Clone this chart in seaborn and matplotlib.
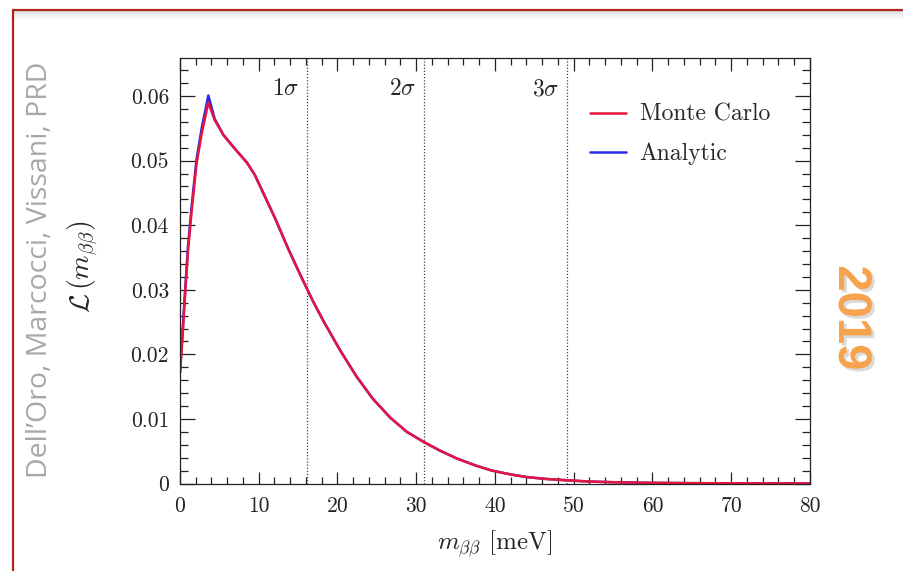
import numpy as np
import pandas as pd
import seaborn as sns
import matplotlib
matplotlib.use("Agg")
import matplotlib.pyplot as plt
from matplotlib.lines import Line2D
from matplotlib.ticker import MultipleLocator
import matplotlib.patheffects as pe

# ---------------- data ----------------
m_bb = [0, 0.25, 0.6, 1.0, 1.5, 2.1, 2.75, 3.6, 4.4, 5.5, 7.0, 8.5, 9.5, 10.8,
        12.1, 13.8, 15.4, 16.9, 18.2, 20.3, 22.4, 24.5, 26.7, 28.8, 31.0, 33.0,
        35.1, 37.5, 39.6, 42.0, 44.0, 46.5, 49.1, 52.0, 55.0, 60.0, 65.0, 70.0,
        75.0, 80.0]
analytic = [0.0172, 0.0220, 0.0290, 0.0365, 0.0432, 0.0502, 0.0550, 0.0601,
            0.0565, 0.0540, 0.0518, 0.0497, 0.0478, 0.0444, 0.0410, 0.0362,
            0.0320, 0.0282, 0.0252, 0.0207, 0.0166, 0.0131, 0.0102, 0.0080,
            0.0064, 0.0051, 0.0039, 0.0028, 0.0020, 0.0014, 0.0010, 0.0007,
            0.0005, 0.0003, 0.0002, 0.0001, 0.00005, 0.00003, 0.00002, 0.00001]
monte_carlo = [0.0172, 0.0214, 0.0283, 0.0358, 0.0425, 0.0495, 0.0542, 0.0590,
               0.0563, 0.0540, 0.0518, 0.0497, 0.0478, 0.0444, 0.0410, 0.0362,
               0.0320, 0.0282, 0.0252, 0.0207, 0.0166, 0.0131, 0.0102, 0.0080,
               0.0064, 0.0051, 0.0039, 0.0028, 0.0020, 0.0014, 0.0010, 0.0007,
               0.0005, 0.0003, 0.0002, 0.0001, 0.00005, 0.00003, 0.00002, 0.00001]
sigma_pos = [16.1, 31.0, 49.2]
sigma_labels = [r"$1\sigma$", r"$2\sigma$", r"$3\sigma$"]
xticks = [0, 10, 20, 30, 40, 50, 60, 70, 80]
yticks = [0, 0.01, 0.02, 0.03, 0.04, 0.05, 0.06]
ytick_labels = ["0", "0.01", "0.02", "0.03", "0.04", "0.05", "0.06"]

df = pd.DataFrame({
    "m": m_bb + m_bb,
    "L": analytic + monte_carlo,
    "series": ["Analytic"] * len(m_bb) + ["Monte Carlo"] * len(m_bb),
})

# ---------------- style ----------------
sns.set_theme(style="ticks")
plt.rcParams["font.family"] = ["cmr10", "DejaVu Serif"]
plt.rcParams["mathtext.fontset"] = "cm"
plt.rcParams["axes.formatter.use_mathtext"] = True
plt.rcParams["axes.unicode_minus"] = False

fig = plt.figure(figsize=(9.04, 5.71), dpi=100)
fig.patch.set_facecolor("white")
ax = fig.add_axes([180 / 904, (571 - 483.5) / 571, 630 / 904, 425.5 / 571])

palette = {"Analytic": "#2a2ae6", "Monte Carlo": "#e8143c"}
sns.lineplot(data=df, x="m", y="L", hue="series", hue_order=["Analytic", "Monte Carlo"],
             palette=palette, estimator=None, sort=False, linewidth=1.8, ax=ax,
             legend=False)

for xp, lab in zip(sigma_pos, sigma_labels):
    ax.axvline(xp, color="#444444", linestyle=(0, (1, 1.5)), linewidth=0.9, zorder=1)
    ax.text(xp - 1.0, 0.0611, lab, ha="right", va="center", fontsize=17)

ax.set_xlim(0, 80)
ax.set_ylim(0, 0.0659)
ax.set_xticks(xticks)
ax.set_xticklabels([str(t) for t in xticks])
ax.set_yticks(yticks)
ax.set_yticklabels(ytick_labels)
ax.xaxis.set_minor_locator(MultipleLocator(2))
ax.yaxis.set_minor_locator(MultipleLocator(0.002))
ax.tick_params(which="both", direction="in", top=True, right=True, colors="#222222",
               labelsize=15.5, width=0.9)
ax.tick_params(axis="x", which="major", length=9, pad=9)
ax.tick_params(axis="x", which="minor", length=5)
ax.tick_params(axis="y", which="major", length=11, pad=8)
ax.tick_params(axis="y", which="minor", length=6)
for s in ax.spines.values():
    s.set_color("#222222")
    s.set_linewidth(0.9)

ax.set_xlabel(r"$m_{\beta\beta}$ [meV]", fontsize=18, labelpad=9)
ax.set_ylabel(r"$\mathcal{L}\,(m_{\beta\beta})$", fontsize=20)
ax.yaxis.set_label_coords(-0.125, 0.51)

handles = [Line2D([], [], color=palette["Monte Carlo"], lw=1.8),
           Line2D([], [], color=palette["Analytic"], lw=1.8)]
ax.legend(handles, ["Monte Carlo", "Analytic"], loc="center left",
          bbox_to_anchor=(0.651, 0.82), frameon=False, fontsize=17,
          handlelength=1.5, handletextpad=0.6, labelspacing=0.72,
          borderpad=0, borderaxespad=0)

# ---------------- slide decorations ----------------
frame_col = "#b3261e"
fig.add_artist(Line2D([13 / 904, 13 / 904], [0, (571 - 10) / 571],
                      transform=fig.transFigure, color=frame_col, lw=1.6))
fig.add_artist(Line2D([13 / 904, 1], [(571 - 10) / 571, (571 - 10) / 571],
                      transform=fig.transFigure, color=frame_col, lw=1.6))
for i, a in enumerate([0.12, 0.08, 0.05, 0.03]):
    y = (571 - 12 - 2 * i) / 571
    fig.add_artist(Line2D([14 / 904, 1], [y, y], transform=fig.transFigure,
                          color="black", alpha=a, lw=1.5))

fig.text(40 / 904, 1 - 270 / 571, "Dell\u2019Oro, Marcocci, Vissani, PRD",
         rotation=90, ha="center", va="center", color="#a8a8a8", fontsize=20.5,
         family=["Open Sans", "DejaVu Sans"])
fig.text(851 / 904, 1 - 318 / 571, "2019", rotation=-90, ha="center", va="center",
         color="#f7a24c", fontsize=34, fontweight="bold",
         family=["Liberation Sans", "DejaVu Sans"],
         path_effects=[pe.withSimplePatchShadow(offset=(2, -2), shadow_rgbFace="#999999", alpha=0.35)])

fig.savefig("out.png", dpi=100, facecolor="white")
